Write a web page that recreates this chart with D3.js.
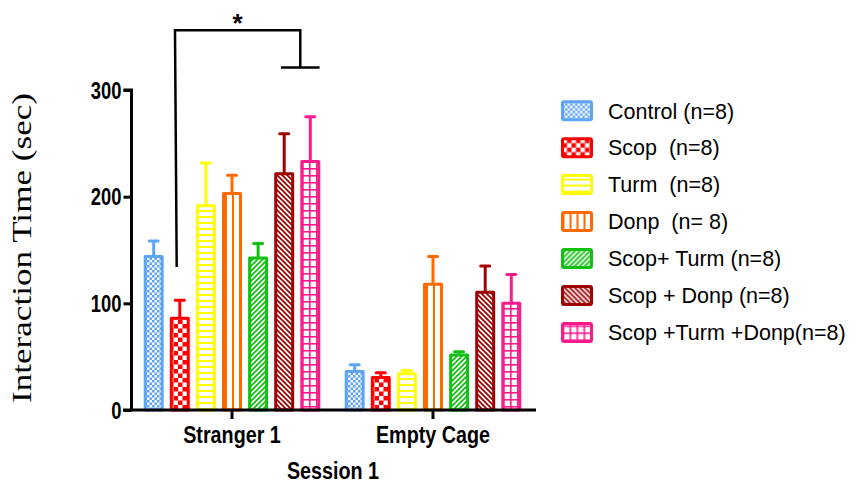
<!DOCTYPE html>
<html><head><meta charset="utf-8">
<script src="https://cdn.jsdelivr.net/npm/d3@7"></script>
<style>
html,body{margin:0;padding:0;background:#fff;}
svg{display:block;}
text{white-space:pre;}
</style></head>
<body>
<svg id="chart" width="857" height="485"></svg>
<script>
// ---- data ----
const categories = ["Stranger 1", "Empty Cage"];
const groups = ["Control (n=8)", "Scop  (n=8)", "Turm  (n=8)", "Donp  (n= 8)", "Scop+ Turm (n=8)", "Scop + Donp (n=8)", "Scop +Turm +Donp(n=8)"];
const colors = ["#5EA4F4", "#FF0000", "#FFFF00", "#FF6A00", "#12C012", "#A00000", "#FF1A8C"];
const stranger1 = [144, 86, 191.5, 203, 142.5, 221.5, 233];
const stranger1Err = [14.5, 17, 40, 17, 13.5, 37.5, 42];
const emptyCage = [36, 30.5, 34, 118, 51.5, 110.5, 100];
const emptyCageErr = [6.5, 4.5, 3, 26, 3, 24.5, 27];
const yTicks = [0, 100, 200, 300];
const yTitle = "Interaction Time (sec)";
const xTitle = "Session 1";
const sigLabel = "*";
// significance bracket levels (data units)
const sigTop = 356, sigLeftEnd = 134, sigRightEnd = 321;

const values = [stranger1, emptyCage];
const errors = [stranger1Err, emptyCageErr];

const svg = d3.select("#chart");
const defs = svg.append("defs");

// ---- patterns ----
function pat(id, w, h, draw) {
  const p = defs.append("pattern").attr("id", id).attr("patternUnits", "userSpaceOnUse")
    .attr("width", w).attr("height", h);
  p.append("rect").attr("width", w).attr("height", h).attr("fill", "#fff");
  draw(p);
}
pat("p0", 5, 5, p => {
  p.append("rect").attr("x", 0).attr("y", 0).attr("width", 2.5).attr("height", 2.5).attr("fill", colors[0]);
  p.append("rect").attr("x", 2.5).attr("y", 2.5).attr("width", 2.5).attr("height", 2.5).attr("fill", colors[0]);
});
pat("p1", 9, 9, p => {
  p.append("rect").attr("width", 9).attr("height", 9).attr("fill", colors[1]);
  p.append("rect").attr("x", 0).attr("y", 0).attr("width", 4.5).attr("height", 4.5).attr("fill", "#fff");
  p.append("rect").attr("x", 4.5).attr("y", 4.5).attr("width", 4.5).attr("height", 4.5).attr("fill", "#fff");
});
pat("p2", 6, 6, p => {
  p.append("rect").attr("x", 0).attr("y", 0).attr("width", 6).attr("height", 2).attr("fill", colors[2]);
});
pat("p3", 7, 7, p => {
  p.append("rect").attr("x", 0).attr("y", 0).attr("width", 2).attr("height", 7).attr("fill", colors[3]);
});
pat("p4", 5, 5, p => {
  p.append("path").attr("d", "M-1,6 L6,-1 M-1,1 L1,-1 M4,6 L6,4").attr("stroke", colors[4]).attr("stroke-width", 1.8);
});
pat("p5", 5, 5, p => {
  p.append("path").attr("d", "M-1,-1 L6,6 M4,-1 L6,1 M-1,4 L1,6").attr("stroke", colors[5]).attr("stroke-width", 1.8);
});
pat("p6", 7, 7, p => {
  p.append("rect").attr("x", 0).attr("y", 0).attr("width", 7).attr("height", 1.6).attr("fill", colors[6]);
  p.append("rect").attr("x", 0).attr("y", 0).attr("width", 1.6).attr("height", 7).attr("fill", colors[6]);
});

// ---- scales ----
const y = d3.scaleLinear().domain([0, 300]).range([410, 90]);
const x = d3.scaleBand().domain(categories).range([131.5, 533.5]).padding(0);
const xs = d3.scaleBand().domain(groups).range([-91.35, 91.35]).paddingInner(0.35).paddingOuter(0.175);
const bw = xs.bandwidth();

const sans = "'Liberation Sans', Arial, sans-serif";
// condense bold axis text horizontally (reference uses a narrow face)
function narrow(sel, k) {
  sel.each(function () {
    const w = this.getComputedTextLength();
    d3.select(this).attr("textLength", w * k).attr("lengthAdjust", "spacingAndGlyphs");
  });
}

// ---- bars ----
categories.forEach((c, ci) => {
  const g = svg.append("g").attr("transform", `translate(${x(c) + x.bandwidth() / 2},0)`);
  groups.forEach((gr, gi) => {
    const v = values[ci][gi], e = errors[ci][gi];
    const cx = xs(gr) + bw / 2;
    g.append("line").attr("x1", cx).attr("x2", cx).attr("y1", y(v)).attr("y2", y(v + e))
      .attr("stroke", colors[gi]).attr("stroke-width", 3);
    g.append("line").attr("x1", cx - 4.5).attr("x2", cx + 4.5).attr("y1", y(v + e)).attr("y2", y(v + e))
      .attr("stroke", colors[gi]).attr("stroke-width", 3).attr("stroke-linecap", "round");
    g.append("rect").attr("x", xs(gr)).attr("width", bw).attr("y", y(v)).attr("height", y(0) - y(v))
      .attr("fill", `url(#p${gi})`).attr("stroke", colors[gi]).attr("stroke-width", 3)
      .attr("stroke-linejoin", "round");
  });
});

// ---- axes ----
const yAxis = d3.axisLeft(y).tickValues(yTicks).tickSize(8).tickPadding(2).tickFormat(d3.format("d"));
const gy = svg.append("g").attr("transform", "translate(131.5,0)").call(yAxis);
gy.select(".domain").attr("stroke", "#000").attr("stroke-width", 3).attr("d", `M-8,${y(300)}H0V${y(0)}`);
gy.selectAll(".tick line").attr("stroke", "#000").attr("stroke-width", 3);
gy.selectAll(".tick text").attr("font-family", sans).attr("font-weight", "bold")
  .attr("font-size", 23).attr("fill", "#000").attr("dy", "0.35em").call(narrow, 0.8);

const xAxis = d3.axisBottom(x).tickSize(9).tickPadding(10);
const gx = svg.append("g").attr("transform", `translate(0,${y(0)})`).call(xAxis);
gx.select(".domain").attr("stroke", "#000").attr("stroke-width", 3).attr("d", "M123,0H536");
gx.selectAll(".tick line").attr("stroke", "#000").attr("stroke-width", 3);
gx.selectAll(".tick text").attr("font-family", sans).attr("font-weight", "bold")
  .attr("font-size", 23.5).attr("fill", "#000").attr("y", 33).attr("dy", 0).call(narrow, 0.84);

svg.append("text").attr("x", 333).attr("y", 479).attr("text-anchor", "middle")
  .attr("font-family", sans).attr("font-weight", "bold").attr("font-size", 23.5).text(xTitle).call(narrow, 0.84);

svg.append("text").attr("transform", "translate(31,248) rotate(-90)").attr("text-anchor", "middle")
  .attr("font-family", "'Liberation Serif', 'Times New Roman', serif").attr("font-size", 27)
  .attr("textLength", 310).attr("lengthAdjust", "spacingAndGlyphs").text(yTitle);

// ---- significance bracket ----
const s1 = x(categories[0]) + x.bandwidth() / 2;
const lx = s1 + xs(groups[1]) + bw / 2 - 4.8;
const rx = s1 + xs(groups[5]) + bw + 7.6;
const tHalf = 19.3;
const br = svg.append("g").attr("stroke", "#000").attr("stroke-width", 2.5).attr("fill", "none");
br.append("path").attr("d", `M${lx + 1.7},${y(sigLeftEnd)}L${lx},${y(sigTop)}H${rx}V${y(sigRightEnd)}`);
br.append("line").attr("x1", rx - tHalf).attr("x2", rx + tHalf).attr("y1", y(sigRightEnd)).attr("y2", y(sigRightEnd));
svg.append("text").attr("x", (lx + rx) / 2).attr("y", 32).attr("text-anchor", "middle")
  .attr("font-family", sans).attr("font-weight", "bold").attr("font-size", 26).text(sigLabel);

// ---- legend ----
const lg = svg.append("g").attr("transform", "translate(562.5,110.7)");
groups.forEach((gr, gi) => {
  const row = lg.append("g").attr("transform", `translate(0,${gi * 36.95})`);
  row.append("rect").attr("x", 0).attr("y", -9).attr("width", 29).attr("height", 18).attr("rx", 1.5)
    .attr("fill", `url(#p${gi})`).attr("stroke", colors[gi]).attr("stroke-width", 3);
  row.append("text").attr("x", 45.5).attr("y", 7.8).attr("font-family", sans)
    .attr("font-size", 21.5).attr("fill", "#000").text(gr);
});
</script>
</body></html>
